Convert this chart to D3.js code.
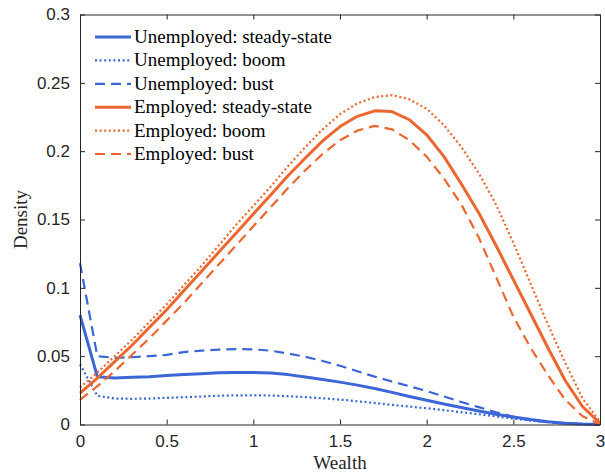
<!DOCTYPE html>
<html>
<head>
<meta charset="utf-8">
<script src="https://cdn.jsdelivr.net/npm/d3@7"></script>
<style>
  body { margin: 0; background: #fff; }
  .tick text { font-family: "Liberation Sans", Arial, sans-serif; font-size: 17px; fill: #262626; }
  .lbl { font-family: "Liberation Serif", "Times New Roman", serif; font-size: 19px; fill: #262626; }
  .key { font-family: "Liberation Serif", "Times New Roman", serif; font-size: 19px; fill: #000; }
</style>
</head>
<body>
<div id="chart"></div>
<script>
// wealth grid
var wealth = d3.range(31).map(function(i) { return +(i / 10).toFixed(1); });

var unempSteady = [0.080, 0.035, 0.034, 0.0345, 0.035, 0.0358, 0.0366, 0.0372, 0.0378, 0.0381,
  0.0381, 0.0376, 0.0365, 0.0348, 0.0330, 0.0310, 0.0288, 0.0264, 0.0235, 0.0205,
  0.0177, 0.0150, 0.0124, 0.0099, 0.0075, 0.0055, 0.0036, 0.0020, 0.0009, 0.0003, 0.0];
var unempBoom = [0.044, 0.021, 0.019, 0.0188, 0.019, 0.0195, 0.020, 0.0205, 0.021, 0.0213,
  0.0214, 0.0212, 0.0207, 0.0200, 0.0192, 0.0182, 0.0170, 0.0157, 0.0144, 0.0131,
  0.0119, 0.0105, 0.0090, 0.0075, 0.0059, 0.0043, 0.0029, 0.0017, 0.0008, 0.0002, 0.0];
var unempBust = [0.118, 0.050, 0.0488, 0.0492, 0.050, 0.051, 0.053, 0.054, 0.0548, 0.0552,
  0.055, 0.054, 0.052, 0.0495, 0.0465, 0.043, 0.039, 0.035, 0.0315, 0.028,
  0.0245, 0.0205, 0.0165, 0.0127, 0.0090, 0.0057, 0.0032, 0.0016, 0.0006, 0.0002, 0.0];
var empSteady = [0.023, 0.034, 0.046, 0.058, 0.071, 0.084, 0.098, 0.112, 0.126, 0.140,
  0.154, 0.168, 0.182, 0.195, 0.2075, 0.218, 0.2255, 0.2295, 0.229, 0.223,
  0.212, 0.196, 0.176, 0.155, 0.131, 0.106, 0.081, 0.056, 0.032, 0.013, 0.001];
var empBoom = [0.027, 0.038, 0.050, 0.062, 0.075, 0.088, 0.102, 0.116, 0.131, 0.146,
  0.160, 0.174, 0.189, 0.203, 0.216, 0.227, 0.235, 0.2395, 0.241, 0.238,
  0.231, 0.219, 0.203, 0.184, 0.161, 0.133, 0.103, 0.073, 0.045, 0.019, 0.002];
var empBust = [0.018, 0.028, 0.039, 0.051, 0.063, 0.076, 0.089, 0.103, 0.117, 0.131,
  0.145, 0.159, 0.173, 0.186, 0.198, 0.208, 0.215, 0.2185, 0.216, 0.208,
  0.196, 0.180, 0.161, 0.137, 0.108, 0.079, 0.056, 0.036, 0.018, 0.006, 0.0];

var xTicks = [0, 0.5, 1, 1.5, 2, 2.5, 3];
var yTicks = [0, 0.05, 0.1, 0.15, 0.2, 0.25, 0.3];

var blue = "#3b66d6";
var orange = "#ec6730";

var series = [
  { name: "Unemployed: steady-state", values: unempSteady, color: blue, style: "solid" },
  { name: "Unemployed: boom", values: unempBoom, color: blue, style: "dot" },
  { name: "Unemployed: bust", values: unempBust, color: blue, style: "dash" },
  { name: "Employed: steady-state", values: empSteady, color: orange, style: "solid" },
  { name: "Employed: boom", values: empBoom, color: orange, style: "dot" },
  { name: "Employed: bust", values: empBust, color: orange, style: "dash" }
];

var margin = { top: 14.5, right: 5, bottom: 47.5, left: 80 };
var width = 605 - margin.left - margin.right;
var height = 472 - margin.top - margin.bottom;

var svg = d3.select("#chart")
  .append("svg")
  .attr("width", 605)
  .attr("height", 472)
  .append("g")
  .attr("transform", "translate(" + margin.left + "," + margin.top + ")");

var xScale = d3.scaleLinear().domain([0, 3]).range([0, width]);
var yScale = d3.scaleLinear().domain([0, 0.3]).range([height, 0]);

function styleOf(s, el) {
  if (s.style === "solid") el.attr("stroke-width", 3);
  if (s.style === "dot") el.attr("stroke-width", 2.2).attr("stroke-dasharray", "2,2.6");
  if (s.style === "dash") el.attr("stroke-width", 2.2).attr("stroke-dasharray", "10,6");
}

var line = d3.line()
  .x(function(d, i) { return xScale(wealth[i]); })
  .y(function(d) { return yScale(d); });

svg.append("g")
  .selectAll("path")
  .data(series)
  .enter()
  .append("path")
  .attr("d", function(d) { return line(d.values); })
  .attr("fill", "none")
  .attr("stroke", function(d) { return d.color; })
  .attr("stroke-linejoin", "round")
  .each(function(d) { styleOf(d, d3.select(this)); });

// axes, ticks pointing inward
var xAxis = d3.axisBottom(xScale).tickValues(xTicks).tickSizeInner(-5).tickSizeOuter(0).tickPadding(10)
  .tickFormat(function(d) { return d; });
var yAxis = d3.axisLeft(yScale).tickValues(yTicks).tickSizeInner(-5).tickSizeOuter(0).tickPadding(10)
  .tickFormat(function(d) { return d; });

svg.append("g").attr("class", "x-axis").attr("transform", "translate(0," + height + ")").call(xAxis);
svg.append("g").attr("class", "y-axis").call(yAxis);
svg.append("g").call(d3.axisTop(xScale).tickValues(xTicks).tickSizeInner(-5).tickSizeOuter(0).tickFormat(""));
svg.append("g").attr("transform", "translate(" + width + ",0)")
  .call(d3.axisRight(yScale).tickValues(yTicks).tickSizeInner(-5).tickSizeOuter(0).tickFormat(""));

svg.selectAll(".domain").attr("stroke", "#262626");
svg.selectAll(".tick line").attr("stroke", "#262626");

// axis labels
svg.append("text")
  .attr("class", "lbl")
  .attr("x", width / 2)
  .attr("y", height + 44)
  .attr("text-anchor", "middle")
  .text("Wealth");

svg.append("text")
  .attr("class", "lbl")
  .attr("transform", "rotate(-90)")
  .attr("x", -height / 2)
  .attr("y", -53)
  .attr("text-anchor", "middle")
  .text("Density");

// legend
var legend = svg.append("g").attr("transform", "translate(15,22.5)");
series.forEach(function(s, i) {
  var y = i * 23.4;
  var l = legend.append("line")
    .attr("x1", 0).attr("x2", 36)
    .attr("y1", y).attr("y2", y)
    .attr("stroke", s.color);
  styleOf(s, l);
  legend.append("text")
    .attr("class", "key")
    .attr("x", 39)
    .attr("y", y + 6)
    .text(s.name);
});
</script>
</body>
</html>
